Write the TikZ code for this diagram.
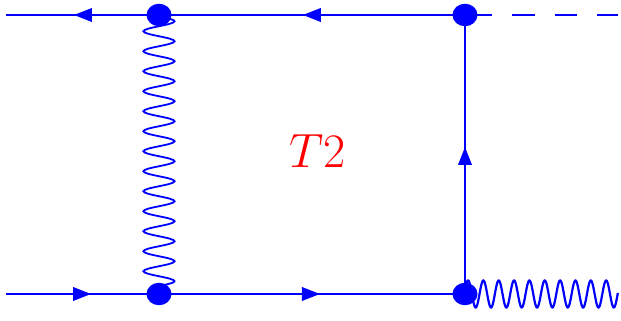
\documentclass[tikz,border=0pt]{standalone}
\usepackage{xcolor}
\usetikzlibrary{arrows.meta,shapes.geometric,backgrounds,decorations.pathmorphing,decorations.markings}
\definecolor{fermion}{HTML}{0000FF}
\tikzset{
  vertexdot/.style={ellipse,fill=fermion,inner sep=0pt,minimum width=0.5cm,minimum height=0.45cm},
  fermionline/.style={fermion,line width=0.04cm},
  arrowat/.style={postaction={decorate},decoration={markings,
    mark=at position #1 with {\arrow{Triangle[length=0.36cm,width=0.27cm]}}}},
  gluonline/.style={fermion,line width=0.036cm,decorate,
    decoration={snake,segment length=0.4cm,amplitude=0.31cm}},
  photonline/.style={fermion,line width=0.044cm},
}
\begin{document}
\begin{tikzpicture}
  \useasboundingbox (0,0) rectangle (12.42,6.42);
  % end points on the left and right
  \coordinate (topleft) at (0.12,6.12);
  \coordinate (botleft) at (0.12,0.54);
  \coordinate (topright) at (12.36,6.12);
  % vertices
  \node[vertexdot] (v1) at (3.18,6.12) {};
  \node[vertexdot] (v2) at (9.30,6.12) {};
  \node[vertexdot] (v3) at (3.18,0.54) {};
  \node[vertexdot] (v4) at (9.30,0.54) {};
  \begin{scope}[on background layer]
    \draw[gluonline] (v1.center) -- (v3.center);
    \draw[photonline,shift={(v4.center)}] plot[domain=0:3.06,samples=300] (\x,{0.27*cos(360*(\x-0.06)/0.307)});
    \draw[fermionline,arrowat=0.556] (v1.center) -- (topleft);
    \draw[fermionline,arrowat=0.53] (v2.center) -- (v1.center);
    \draw[fermionline,arrowat=0.556] (botleft) -- (v3.center);
    \draw[fermionline,arrowat=0.526] (v3.center) -- (v4.center);
    \draw[fermionline,arrowat=0.527] (v4.center) -- (v2.center);
    \draw[fermionline,dash pattern=on 0.45cm off 0.4cm,dash phase=0.76cm] (v2.center) -- (topright);
  \end{scope}
  \node[text=red,font=\fontsize{24}{28}\selectfont,scale=1.1,transform shape] (label) at (6.35,3.4) {$T2$};
\end{tikzpicture}
\end{document}
